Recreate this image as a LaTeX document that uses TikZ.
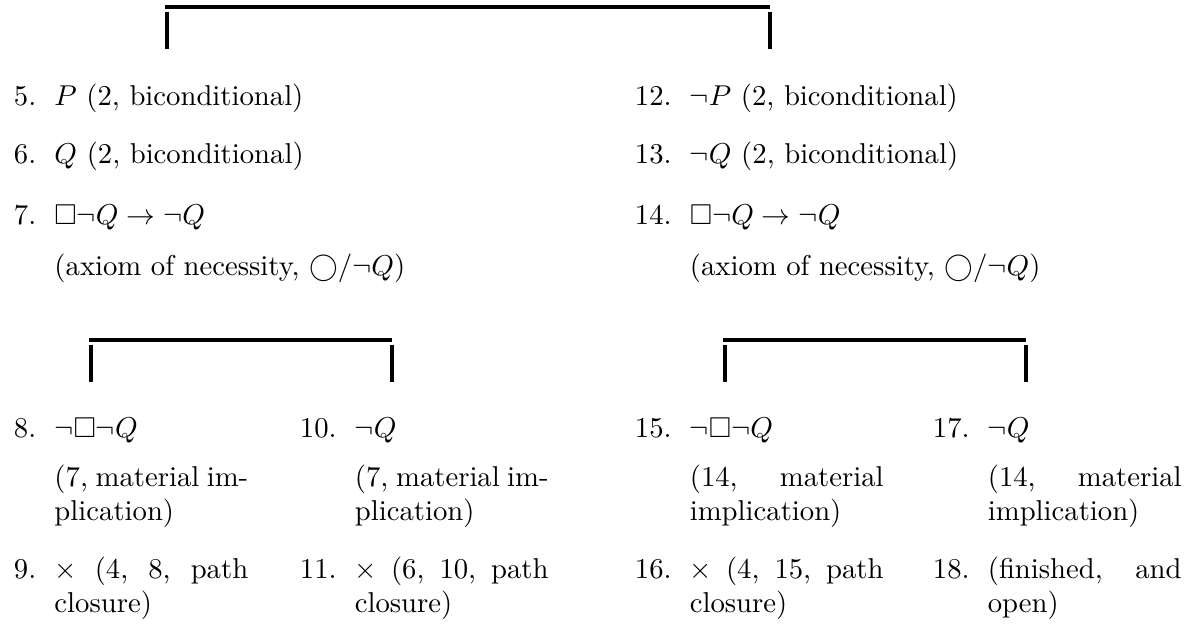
\documentclass[tikz,border=0pt]{standalone}
\usepackage{amssymb}
\usetikzlibrary{positioning}

\begin{document}
\begin{tikzpicture}[
  x=0.3484pt, y=-0.3484pt, line width=1.35pt,
  branch/.style={draw=black, line width=1.35pt, line cap=butt},
  num/.style={inner sep=0pt, anchor=base west},
  wide/.style={inner sep=0pt, text width=140pt, align=left},
  narrow/.style={inner sep=0pt, text width=67.5pt, align=justify},
]
  % Frame of the picture, in pixel units of the page.
  \useasboundingbox (0,0) rectangle (1197,625);

  % Columns and baselines.
  \def\xa{12} \def\xb{298} \def\xc{633} \def\xd{931}
  \def\ya{105} \def\yb{163} \def\yc{224} \def\yd{437} \def\ye{578}

  % Branch brackets: a bar and two legs for every split.
  \foreach \s/\xl/\xr/\yh in {top/167/770/7, left/91/392/340, right/725/1026/340} {
    \coordinate (\s-bl) at (\xl-2,\yh);
    \coordinate (\s-br) at (\xr,\yh);
    \coordinate (\s-la) at (\xl,\yh+4.5);
    \coordinate (\s-lb) at (\xl,\yh+42);
    \coordinate (\s-ra) at (\xr,\yh+4.5);
    \coordinate (\s-rb) at (\xr,\yh+42);
    \draw[branch] (\s-bl) -- (\s-br);
    \draw[branch] (\s-la) -- (\s-lb);
    \draw[branch] (\s-ra) -- (\s-rb);
  }

  % Trunk of the left branch.
  \node[num] (n5) at (\xa,\ya) {5.};
  \node[wide, base right=5pt of n5] (t5) {$P$ (2, biconditional)};
  \node[num] (n6) at (\xa,\yb) {6.};
  \node[wide, base right=5pt of n6] (t6) {$Q$ (2, biconditional)};
  \node[num] (n7) at (\xa,\yc) {7.};
  \node[wide, base right=5pt of n7] (t7)
    {$\Box\neg Q\rightarrow\neg Q$\\[5.8pt](axiom of necessity, $\bigcirc/\neg Q$)};

  % Trunk of the right branch.
  \node[num] (n12) at (\xc,\ya) {12.};
  \node[wide, base right=5pt of n12] (t12) {$\neg P$ (2, biconditional)};
  \node[num] (n13) at (\xc,\yb) {13.};
  \node[wide, base right=5pt of n13] (t13) {$\neg Q$ (2, biconditional)};
  \node[num] (n14) at (\xc,\yc) {14.};
  \node[wide, base right=5pt of n14] (t14)
    {$\Box\neg Q\rightarrow\neg Q$\\[5.8pt](axiom of necessity, $\bigcirc/\neg Q$)};

  % Leaves under the left branch.
  \node[num] (n8) at (\xa,\yd) {8.};
  \node[narrow, base right=5pt of n8] (t8) {$\neg\Box\neg Q$\\[5.1pt](7, material implication)};
  \node[num] (n9) at (\xa,\ye) {9.};
  \node[narrow, base right=5pt of n9] (t9) {$\times$ (4, 8, path closure)};
  \node[num] (n10) at (\xb,\yd) {10.};
  \node[narrow, base right=5pt of n10] (t10) {$\neg Q$\\[5.1pt](7, material implication)};
  \node[num] (n11) at (\xb,\ye) {11.};
  \node[narrow, base right=5pt of n11] (t11) {$\times$ (6, 10, path closure)};

  % Leaves under the right branch.
  \node[num] (n15) at (\xc,\yd) {15.};
  \node[narrow, base right=5pt of n15] (t15) {$\neg\Box\neg Q$\\[5.1pt](14, material implication)};
  \node[num] (n16) at (\xc,\ye) {16.};
  \node[narrow, base right=5pt of n16] (t16) {$\times$ (4, 15, path closure)};
  \node[num] (n17) at (\xd,\yd) {17.};
  \node[narrow, base right=5pt of n17] (t17) {$\neg Q$\\[5.1pt](14, material implication)};
  \node[num] (n18) at (\xd,\ye) {18.};
  \node[narrow, base right=5pt of n18] (t18) {(finished, and open)};
\end{tikzpicture}
\end{document}
